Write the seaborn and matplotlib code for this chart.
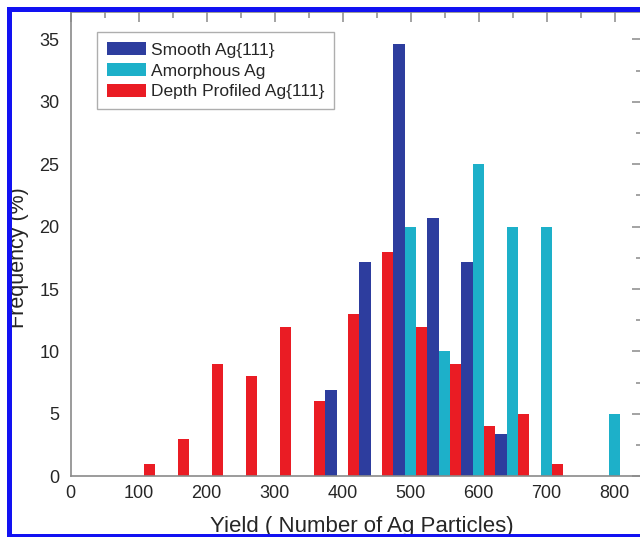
import matplotlib
matplotlib.use("Agg")
import matplotlib.pyplot as plt
from matplotlib.patches import Rectangle
from matplotlib.ticker import MultipleLocator
import seaborn as sns
import pandas as pd

# ---- data ----
smooth_yield = [383, 433, 483, 533, 583, 633]
smooth_freq = [6.9, 17.2, 34.6, 20.7, 17.2, 3.4]

amorph_yield = [500, 550, 600, 650, 700, 800]
amorph_freq = [20, 10, 25, 20, 20, 5]

depth_yield = [116, 166, 216, 266, 316, 366, 416, 466, 516, 566, 616, 666, 716]
depth_freq = [1, 3, 9, 8, 12, 6, 13, 18, 12, 9, 4, 5, 1]

series_names = ["Smooth Ag{111}", "Amorphous Ag", "Depth Profiled Ag{111}"]
series_colors = ["#2D3D9E", "#1DB0C9", "#EA1C24"]

x_ticks = [0, 100, 200, 300, 400, 500, 600, 700, 800]
y_ticks = [0, 5, 10, 15, 20, 25, 30, 35]

sns.set_theme(style="white")
plt.rcParams["font.family"] = ["Liberation Sans", "DejaVu Sans"]

fig = plt.figure(figsize=(6.4, 5.37), dpi=100)
ax = fig.add_axes([70.7 / 640, (537 - 476.3) / 537, 571 / 640, 464.3 / 537])

datasets = [
    (smooth_yield, smooth_freq),
    (amorph_yield, amorph_freq),
    (depth_yield, depth_freq),
]
for (xs, ys), name, col in zip(datasets, series_names, series_colors):
    df = pd.DataFrame({"yield": xs, "freq": ys})
    sns.barplot(data=df, x="yield", y="freq", native_scale=True, width=0.34,
                color=col, saturation=1, errorbar=None, linewidth=0,
                label=name, ax=ax, zorder=2)

ax.set_xlim(0, 840)
ax.set_ylim(0, 37.2)
ax.set_xticks(x_ticks)
ax.set_xticklabels([str(v) for v in x_ticks])
ax.set_yticks(y_ticks)
ax.set_yticklabels([str(v) for v in y_ticks])
ax.xaxis.set_minor_locator(MultipleLocator(50))
ax.yaxis.set_minor_locator(MultipleLocator(2.5))

spine_col = "#8a8a8a"
for s in ax.spines.values():
    s.set_visible(True)
    s.set_color(spine_col)
    s.set_linewidth(1.2)

ax.tick_params(which="both", direction="in", top=True, right=True,
               color=spine_col, width=1.1, labelcolor="#262626",
               labelsize=13)
ax.tick_params(which="major", length=7)
ax.tick_params(which="minor", length=4)
ax.tick_params(axis="x", which="major", pad=6)
ax.tick_params(axis="y", which="major", pad=8)

ax.set_xlabel("Yield ( Number of Ag Particles)", fontsize=16, color="#262626")
ax.set_ylabel("Frequency (%)", fontsize=15.5, color="#262626")
ax.xaxis.set_label_coords(0.51, -0.085)
ax.yaxis.set_label_coords(-0.073, 0.472)

leg = ax.legend(loc="upper left", bbox_to_anchor=(0.0466, 0.956),
                borderaxespad=0, fontsize=12.5, frameon=True, fancybox=False,
                handlelength=2.25, handleheight=0.8, handletextpad=0.3,
                labelspacing=0.3, borderpad=0.55)
leg.get_frame().set_edgecolor("#9a9a9a")
leg.get_frame().set_linewidth(1.0)
for t in leg.get_texts():
    t.set_color("#262626")

# blue border around the picture
border = "#1212F2"
W, H = 640, 537
fig.add_artist(Rectangle((7 / W, 0), 5 / W, (H - 7) / H, transform=fig.transFigure,
                         color=border, lw=0, zorder=10))
fig.add_artist(Rectangle((7 / W, (H - 12) / H), 1, 5 / H, transform=fig.transFigure,
                         color=border, lw=0, zorder=10))
fig.add_artist(Rectangle((7 / W, 0), 1, 3 / H, transform=fig.transFigure,
                         color=border, lw=0, zorder=10))

fig.savefig("out.png", dpi=100)
